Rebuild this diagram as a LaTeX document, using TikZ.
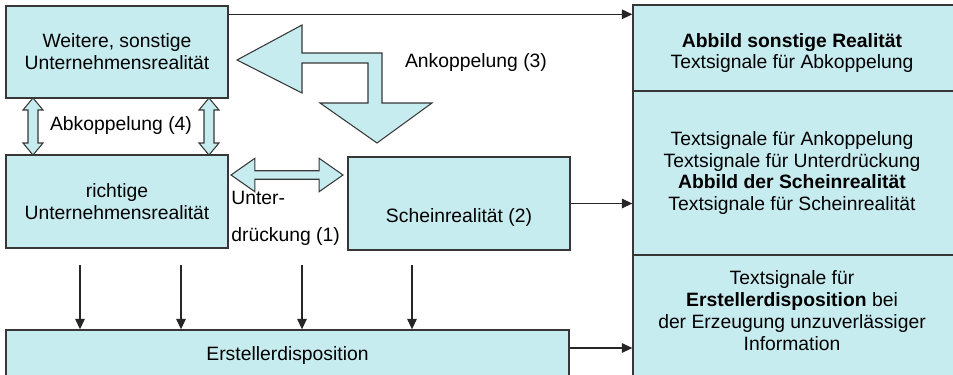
\documentclass[tikz,border=0pt]{standalone}
\usepackage{fontspec}
\setmainfont{Liberation Sans}
\usepackage{tikz}
\usetikzlibrary{arrows.meta,shapes.arrows,positioning}
\definecolor{BoxCyan}{RGB}{198,236,240}
\definecolor{EdgeGray}{RGB}{55,55,55}

\begin{document}
\begin{tikzpicture}[x=0.02cm,y=-0.02cm,
    font=\fontsize{11}{12.5}\selectfont,
    box/.style={draw=EdgeGray,fill=BoxCyan,line width=0.8pt,align=center,inner sep=0pt},
    lbl/.style={inner sep=0pt,align=center},
    arr/.style={-{Triangle[length=6pt,width=5.5pt]},line width=0.6pt,black!85},
    dblarr/.style={double arrow,draw=EdgeGray,fill=BoxCyan,line width=0.6pt,inner xsep=0pt,
                   double arrow tip angle=70,double arrow head indent=0pt},
    bigarr/.style={draw=EdgeGray,fill=BoxCyan,line width=0.6pt,line join=miter}
  ]
  \useasboundingbox (0,0) rectangle (953,375);
  \clip (0,0) rectangle (953,375);

  % left part
  \node[box,minimum width=4.44cm,minimum height=1.84cm] (W) at (117,52) {Weitere, sonstige\\Unternehmensrealität};
  \node[box,minimum width=4.44cm,minimum height=1.86cm] (R) at (117,201.5) {richtige\\Unternehmensrealität};
  \node[box,minimum width=4.44cm,minimum height=1.86cm] (S) at (459,203.5) {};
  \node[lbl] (St) at (459,217) {Scheinrealität (2)};
  \node[box,minimum width=11.26cm,minimum height=1cm] (E) at (287.5,355) {Erstellerdisposition};

  % right column
  \node[box,minimum width=6.54cm,minimum height=1.72cm] (T) at (796.5,48) {};
  \node[box,minimum width=6.54cm,minimum height=3.28cm] (M) at (796.5,173) {};
  \node[box,minimum width=6.54cm,minimum height=2.5cm] (B) at (796.5,317.5) {};
  \node[lbl] (Tt) at (792,53) {\textbf{Abbild sonstige Realität}\\Textsignale für Abkoppelung};
  \node[lbl] (Mt) at (792,173) {Textsignale für Ankoppelung\\Textsignale für Unterdrückung\\
    \textbf{Abbild der Scheinrealität}\\Textsignale für Scheinrealität};
  \node[lbl] (Bt) at (792,311) {Textsignale für\\\textbf{Erstellerdisposition} bei\\
    der Erzeugung unzuverlässiger\\Information};

  % hollow arrows
  \foreach \x in {33,209}
    \draw[bigarr] (\x,98) -- ++(10,12) -- ++(-5,0) -- ++(0,33) -- ++(5,0) -- (\x,155)
      -- ++(-10,-12) -- ++(5,0) -- ++(0,-33) -- ++(-5,0) -- cycle;
  \node[dblarr,minimum height=2.24cm,minimum width=0.28cm,inner ysep=0.075cm] (H1) at (287,175) {};
  \draw[bigarr] (237,60) -- (302,25) -- (302,53) -- (382,53) -- (382,103) -- (432,103)
    -- (377,143) -- (320,103) -- (368,103) -- (368,63) -- (302,63) -- (302,93) -- cycle;

  \node[lbl] (L4) at (121,126) {Abkoppelung (4)};
  \node[lbl] (L3) at (476,63) {Ankoppelung (3)};
  \node[lbl,anchor=west,align=left] (L1) at (231,218) {Unter-\\[8.5pt]drückung (1)};

  % connectors
  \coordinate (w1) at ([yshift=-0.18cm]W.north east);
  \draw[arr] (w1) -- (w1 -| T.west);
  \draw[arr] (S.east) -- (S.east -| M.west);
  \coordinate (e1) at ([yshift=0.14cm]E.east);
  \draw[arr] (e1) -- (e1 -| B.west);
  \foreach \x/\n in {80/1,181/2,302/3,412/4}{
    \coordinate (d\n) at (\x,265);
    \draw[arr] (d\n) -- (d\n |- E.north);
  }
\end{tikzpicture}
\end{document}
